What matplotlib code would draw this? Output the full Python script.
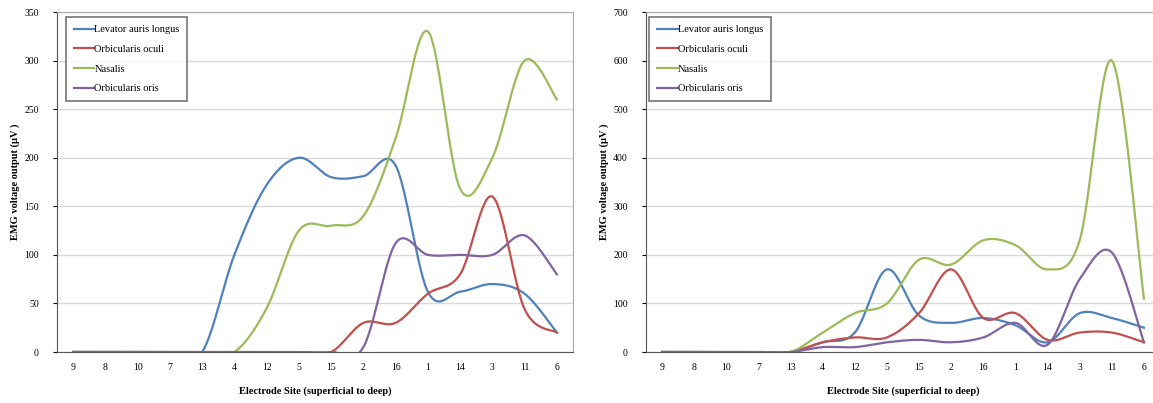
import numpy as np
import matplotlib
matplotlib.use("Agg")
import matplotlib.pyplot as plt

# --- DONNEES ---
sites = ["9", "8", "10", "7", "13", "4", "12", "5", "15", "2", "16", "1", "14", "3", "11", "6"]
series_names = ["Levator auris longus", "Orbicularis oculi", "Nasalis", "Orbicularis oris"]
colors = ["#4F81BD", "#C0504D", "#9BBB59", "#8064A2"]

# left panel
left_levator = [0, 0, 0, 0, 0, 100, 172, 200, 180, 181, 192, 62, 62, 70, 60, 20]
left_oculi = [0, 0, 0, 0, 0, 0, 0, 0, 0, 30, 30, 60, 80, 160, 44, 20]
left_nasalis = [0, 0, 0, 0, 0, 0, 45, 125, 130, 140, 220, 330, 168, 200, 300, 260]
left_oris = [0, 0, 0, 0, 0, 0, 0, 0, 0, 5, 112, 100, 100, 100, 120, 80]

# right panel
right_levator = [0, 0, 0, 0, 0, 20, 40, 170, 75, 60, 70, 55, 20, 80, 70, 50]
right_oculi = [0, 0, 0, 0, 0, 20, 30, 30, 80, 170, 70, 80, 25, 40, 40, 20]
right_nasalis = [0, 0, 0, 0, 0, 40, 80, 100, 190, 180, 230, 220, 170, 230, 600, 110]
right_oris = [0, 0, 0, 0, 0, 10, 10, 20, 25, 20, 30, 60, 15, 150, 205, 20]

serif = ["Liberation Serif", "DejaVu Serif"]


# --- LISSAGE (style "courbe lissee" d'Excel, bezier) ---
def smooth(y, n=30):
    y = np.asarray(y, dtype=float)
    x = np.arange(len(y), dtype=float)
    xs, ys = [], []
    for i in range(len(y) - 1):
        p0 = np.array([x[max(i - 1, 0)], y[max(i - 1, 0)]])
        p1 = np.array([x[i], y[i]])
        p2 = np.array([x[i + 1], y[i + 1]])
        p3 = np.array([x[min(i + 2, len(y) - 1)], y[min(i + 2, len(y) - 1)]])
        c1 = p1 + (p2 - p0) / 6.0
        c2 = p2 - (p3 - p1) / 6.0
        t = np.linspace(0, 1, n)[:, None]
        pts = ((1 - t) ** 3) * p1 + 3 * ((1 - t) ** 2) * t * c1 + 3 * (1 - t) * t ** 2 * c2 + t ** 3 * p2
        xs.append(pts[:, 0])
        ys.append(pts[:, 1])
    return np.concatenate(xs), np.concatenate(ys)


def panel(ax, data, ymax, ystep, leg_x):
    for vals, name, col in zip(data, series_names, colors):
        sx, sy = smooth(vals)
        ax.plot(sx, sy, color=col, lw=1.6, label=name)
    ax.set_xlim(-0.5, len(sites) - 0.5)
    ax.set_ylim(0, ymax)
    ax.set_xticks(range(len(sites)))
    ax.set_xticklabels(sites, fontfamily=serif, fontsize=7)
    ax.set_yticks(np.arange(0, ymax + 1, ystep))
    ax.set_yticklabels([str(v) for v in range(0, ymax + 1, ystep)], fontfamily=serif, fontsize=7)
    ax.yaxis.grid(True, color="#d9d9d9", lw=1.0)
    ax.set_axisbelow(True)
    ax.tick_params(axis="x", length=0, pad=8)
    ax.tick_params(axis="y", length=3, direction="out", pad=10)
    ax.spines["left"].set_color("#555555")
    ax.spines["bottom"].set_color("#555555")
    ax.spines["top"].set_color("#aaaaaa")
    ax.spines["right"].set_color("#aaaaaa")
    ax.set_xlabel("Electrode Site (superficial to deep)", fontfamily=serif, fontsize=7.5,
                  fontweight="bold", labelpad=10)
    ax.set_ylabel("EMG voltage output (μV )", fontfamily=serif, fontsize=7.5,
                  fontweight="bold", labelpad=3)
    leg = ax.legend(loc="upper left", bbox_to_anchor=(leg_x, 0.985), fancybox=False,
                    prop={"family": serif, "size": 7.5}, handlelength=2.0, handletextpad=0.0,
                    labelspacing=1.0, borderpad=0.75, borderaxespad=0)
    leg.get_frame().set_edgecolor("#555555")
    leg.get_frame().set_linewidth(1.2)


fig = plt.figure(figsize=(11.53, 4.03), dpi=100)
ax1 = fig.add_axes([57 / 1153, 51 / 403, 516 / 1153, 340 / 403])
ax2 = fig.add_axes([646 / 1153, 51 / 403, 514 / 1153, 340 / 403])

panel(ax1, [left_levator, left_oculi, left_nasalis, left_oris], 350, 50, 0.017)
panel(ax2, [right_levator, right_oculi, right_nasalis, right_oris], 700, 100, 0.006)

fig.savefig("out.png", dpi=100)
